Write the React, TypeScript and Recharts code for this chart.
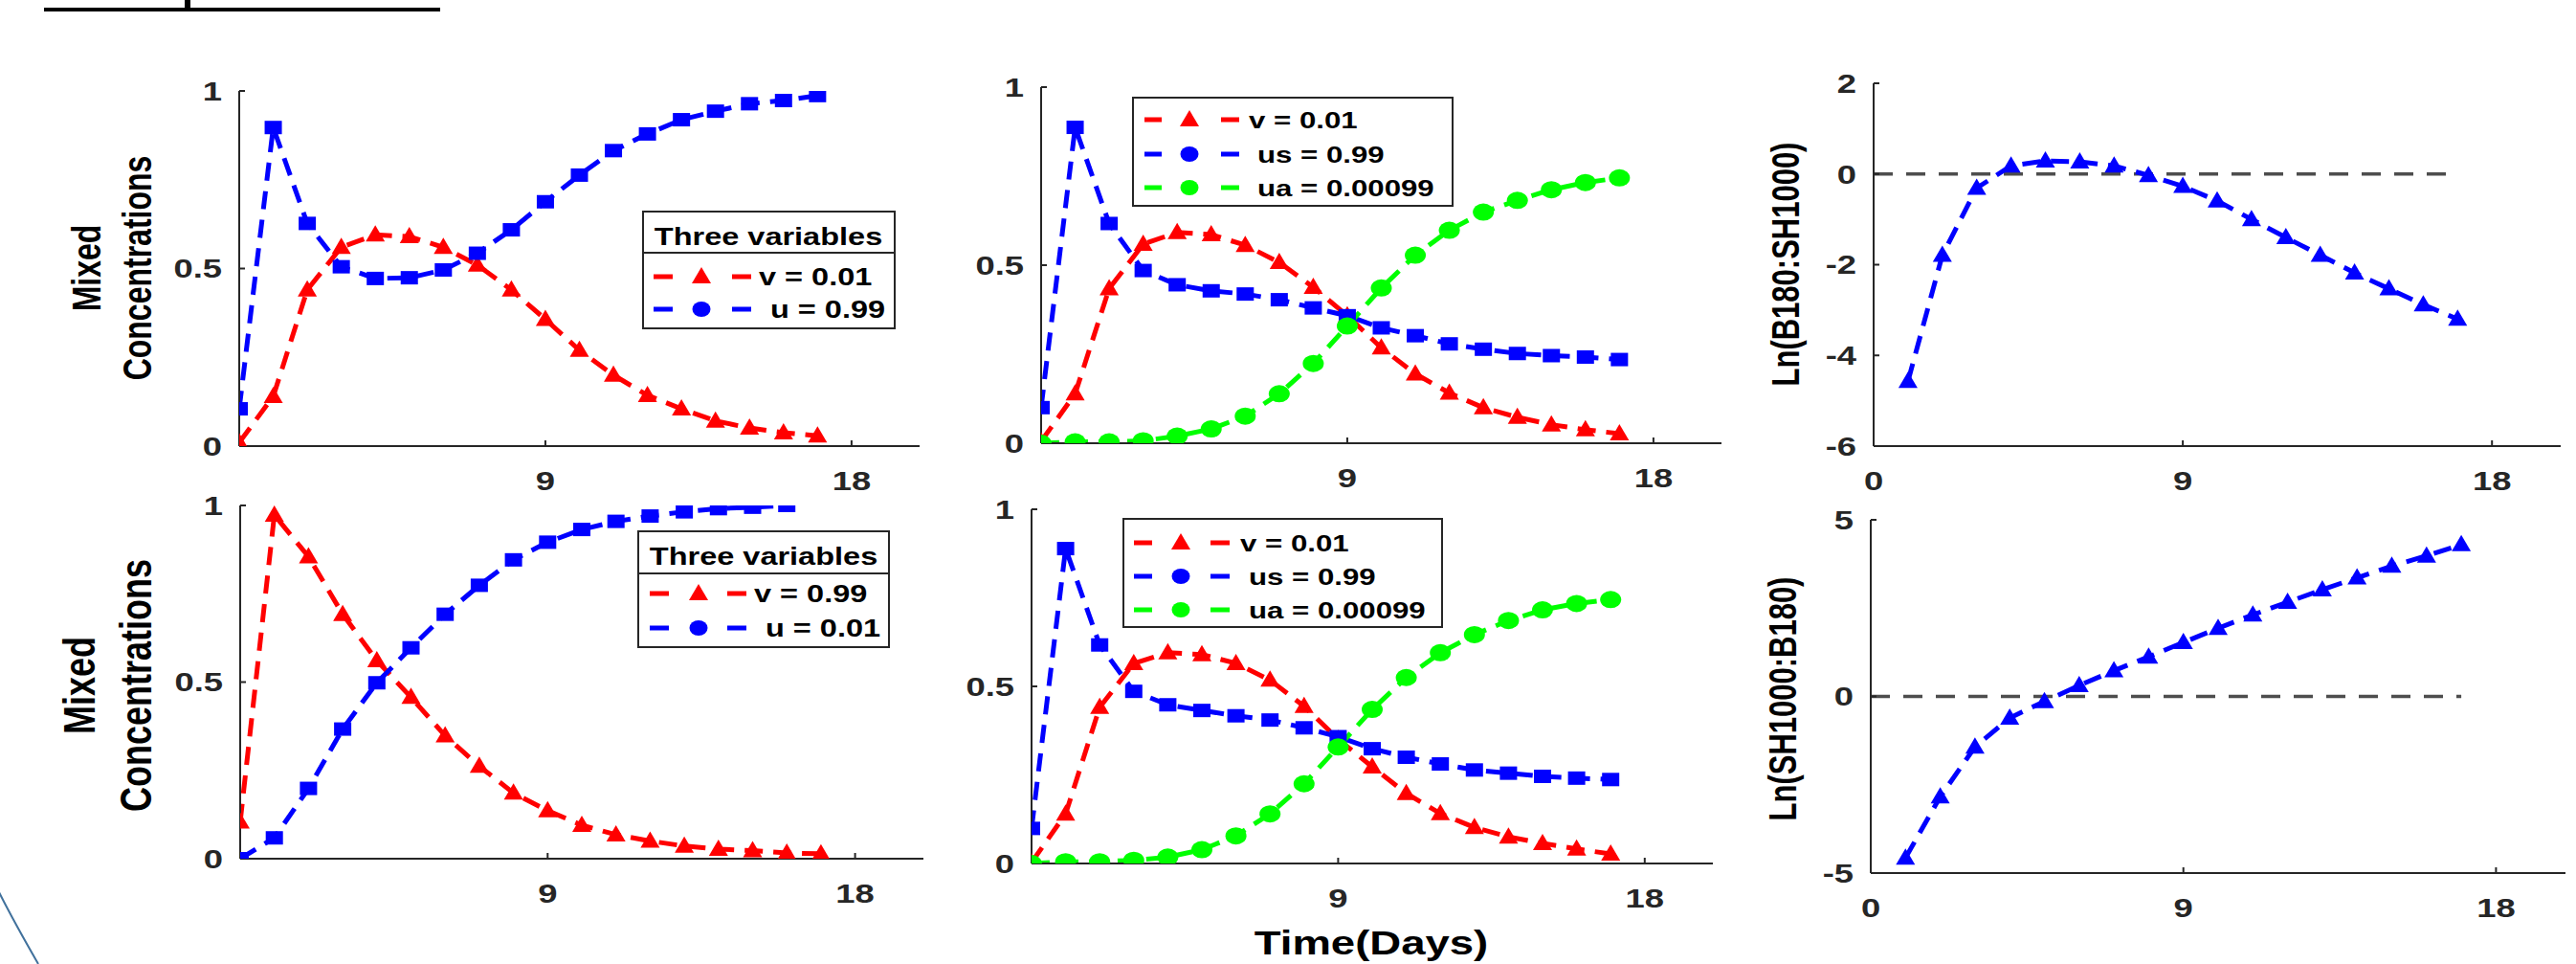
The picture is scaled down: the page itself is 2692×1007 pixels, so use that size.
import React from 'react';
import { LineChart, Line, XAxis, YAxis, ReferenceLine } from 'recharts';

// days on the x axis
const days = [0, 1, 2, 3, 4, 5, 6, 7, 8, 9, 10, 11, 12, 13, 14, 15, 16, 17];
const ratioDays = [1, 2, 3, 4, 5, 6, 7, 8, 9, 10, 11, 12, 13, 14, 15, 16, 17];

// top left: v = 0.01, u = 0.99
const p1V = [0.01, 0.14, 0.44, 0.56, 0.595, 0.59, 0.56, 0.51, 0.44, 0.357, 0.27, 0.2, 0.143, 0.105, 0.071, 0.051, 0.038, 0.029];
const p1U = [0.105, 0.897, 0.627, 0.505, 0.472, 0.474, 0.496, 0.543, 0.609, 0.688, 0.763, 0.832, 0.879, 0.919, 0.943, 0.964, 0.973, 0.987];

// top middle: v, us, ua
const p2V = [0.005, 0.139, 0.434, 0.559, 0.592, 0.586, 0.556, 0.508, 0.438, 0.358, 0.268, 0.195, 0.141, 0.1, 0.073, 0.052, 0.038, 0.027];
const p2Us = [0.1, 0.887, 0.617, 0.485, 0.445, 0.428, 0.419, 0.403, 0.38, 0.358, 0.324, 0.302, 0.279, 0.264, 0.252, 0.246, 0.242, 0.235];
const p2Ua = [0.0, 0.004, 0.004, 0.007, 0.02, 0.04, 0.076, 0.139, 0.224, 0.329, 0.436, 0.528, 0.598, 0.649, 0.682, 0.712, 0.732, 0.745];

// top right: Ln(B180:SH1000)
const p3Ratio = [-4.57, -1.79, -0.31, 0.18, 0.29, 0.27, 0.18, -0.03, -0.27, -0.59, -1.0, -1.4, -1.79, -2.18, -2.53, -2.88, -3.2];

// bottom left: v = 0.99, u = 0.01
const p4V = [0.104, 0.973, 0.855, 0.692, 0.561, 0.457, 0.348, 0.262, 0.186, 0.136, 0.095, 0.068, 0.05, 0.036, 0.027, 0.023, 0.016, 0.014];
const p4U = [0.0, 0.059, 0.199, 0.367, 0.498, 0.597, 0.692, 0.774, 0.846, 0.896, 0.932, 0.955, 0.97, 0.982, 0.991, 0.995, 1.0];

// bottom middle: v, us, ua
const p5V = [0.003, 0.14, 0.441, 0.565, 0.595, 0.59, 0.565, 0.518, 0.444, 0.351, 0.273, 0.198, 0.141, 0.102, 0.075, 0.057, 0.041, 0.027];
const p5Us = [0.099, 0.889, 0.617, 0.486, 0.448, 0.432, 0.417, 0.405, 0.383, 0.358, 0.324, 0.3, 0.281, 0.264, 0.255, 0.246, 0.241, 0.237];
const p5Ua = [0.0, 0.005, 0.005, 0.009, 0.018, 0.039, 0.078, 0.14, 0.225, 0.329, 0.435, 0.525, 0.595, 0.646, 0.686, 0.716, 0.734, 0.745];

// bottom right: Ln(SH1000:B180)
const p6Ratio = [-4.57, -2.84, -1.43, -0.61, -0.14, 0.31, 0.73, 1.12, 1.53, 1.93, 2.31, 2.67, 3.02, 3.36, 3.69, 3.98, 4.3];

const concTicks = [0, 0.5, 1];
const b180Ticks = [-6, -4, -2, 0, 2];
const sh1000Ticks = [-5, 0, 5];
const xTicksShort = [9, 18];
const xTicksFull = [0, 9, 18];

const FONT = '"Liberation Sans", Arial, Helvetica, sans-serif';
const AXIS = '#262626';
const RED = '#ff0000';
const BLUE = '#0000ff';
const GREEN = '#00ff00';
const STRETCH = 1.3;
const DASH = '19 11';

const toRows = (xs: number[], ys: number[]) => ys.map((y, i) => ({ x: xs[i], y }));

const Tri = ({ cx, cy, fill }: any) => (
  <polygon points={`${cx},${cy - 10} ${cx - 10},${cy + 7} ${cx + 10},${cy + 7}`} fill={fill} />
);
const Sq = ({ cx, cy, fill }: any) => <rect x={cx - 9} y={cy - 7} width={18} height={14} fill={fill} />;
const Circ = ({ cx, cy, fill }: any) => <ellipse cx={cx} cy={cy} rx={11} ry={9} fill={fill} />;
const LegCirc = ({ cx, cy, fill }: any) => <ellipse cx={cx} cy={cy} rx={9.5} ry={8} fill={fill} />;

const markerOf: Record<string, any> = { tri: Tri, sq: Sq, circ: Circ, legcirc: LegCirc };

const XTick = ({ x, y, payload }: any) => (
  <g transform={`translate(${x},${y})`}>
    <text transform={`scale(${STRETCH},1)`} textAnchor="middle" dy="0.71em" fill={AXIS}
      fontSize={28} fontWeight={700} fontFamily={FONT}>{payload.value}</text>
  </g>
);

const YTick = ({ x, y, payload }: any) => (
  <g transform={`translate(${x},${y})`}>
    <text transform={`scale(${STRETCH},1)`} textAnchor="end" dy="0.355em" fill={AXIS}
      fontSize={28} fontWeight={700} fontFamily={FONT}>{payload.value}</text>
  </g>
);

interface Series { xs: number[]; ys: number[]; color: string; marker: string }
interface PanelCfg {
  left: number; right: number; top: number; bottom: number;
  yDomain: number[]; yTicks: number[]; xTicks: number[];
  series: Series[]; zero?: boolean;
}

const panels: PanelCfg[] = [
  { left: 250, right: 961, top: 95, bottom: 466, yDomain: [0, 1], yTicks: concTicks, xTicks: xTicksShort,
    series: [{ xs: days, ys: p1V, color: RED, marker: 'tri' }, { xs: days, ys: p1U, color: BLUE, marker: 'sq' }] },
  { left: 1088, right: 1799, top: 91, bottom: 463, yDomain: [0, 1], yTicks: concTicks, xTicks: xTicksShort,
    series: [{ xs: days, ys: p2V, color: RED, marker: 'tri' }, { xs: days, ys: p2Us, color: BLUE, marker: 'sq' },
      { xs: days, ys: p2Ua, color: GREEN, marker: 'circ' }] },
  { left: 1958, right: 2676, top: 87, bottom: 466, yDomain: [-6, 2], yTicks: b180Ticks, xTicks: xTicksFull,
    series: [{ xs: ratioDays, ys: p3Ratio, color: BLUE, marker: 'tri' }], zero: true },
  { left: 251, right: 965, top: 528, bottom: 897, yDomain: [0, 1], yTicks: concTicks, xTicks: xTicksShort,
    series: [{ xs: days, ys: p4V, color: RED, marker: 'tri' }, { xs: days.slice(0, 17), ys: p4U, color: BLUE, marker: 'sq' }] },
  { left: 1078, right: 1790, top: 532, bottom: 902, yDomain: [0, 1], yTicks: concTicks, xTicks: xTicksShort,
    series: [{ xs: days, ys: p5V, color: RED, marker: 'tri' }, { xs: days, ys: p5Us, color: BLUE, marker: 'sq' },
      { xs: days, ys: p5Ua, color: GREEN, marker: 'circ' }] },
  { left: 1955, right: 2681, top: 543, bottom: 912, yDomain: [-5, 5], yTicks: sh1000Ticks, xTicks: xTicksFull,
    series: [{ xs: ratioDays, ys: p6Ratio, color: BLUE, marker: 'tri' }], zero: true },
];

const YW = 120;
const MT = 20;
const MR = 12;
const XH = 70;

const Panel = ({ p }: { p: PanelCfg }) => {
  const w = YW + (p.right - p.left) + MR;
  const h = MT + (p.bottom - p.top) + XH;
  return (
    <div style={{ position: 'absolute', left: p.left - YW, top: p.top - MT }}>
      <LineChart width={w} height={h} margin={{ top: MT, right: MR, bottom: 0, left: 0 }}>
        <XAxis type="number" dataKey="x" domain={[0, 20]} ticks={p.xTicks} interval={0} height={XH}
          axisLine={{ stroke: AXIS, strokeWidth: 2 }} tickLine={{ stroke: AXIS, strokeWidth: 2 }}
          tickSize={-6} tickMargin={32} tick={<XTick />} allowDataOverflow />
        <YAxis type="number" domain={p.yDomain} ticks={p.yTicks} interval={0} width={YW}
          axisLine={{ stroke: AXIS, strokeWidth: 2 }} tickLine={{ stroke: AXIS, strokeWidth: 2 }}
          tickSize={-6} tickMargin={24} tick={<YTick />} allowDataOverflow />
        {p.zero && (
          <ReferenceLine segment={[{ x: 0, y: 0 }, { x: 17, y: 0 }]} stroke="#4d4d4d"
            strokeWidth={3.5} strokeDasharray="20 14" />
        )}
        {p.series.map((s, i) => {
          const M = markerOf[s.marker];
          return (
            <Line key={i} data={toRows(s.xs, s.ys)} dataKey="y" type="linear" stroke={s.color}
              strokeWidth={5} strokeDasharray={DASH} isAnimationActive={false}
              dot={(d: any) => <M key={`${i}-${d.index}`} cx={d.cx} cy={d.cy} fill={s.color} />}
              activeDot={false} />
          );
        })}
      </LineChart>
    </div>
  );
};

// horizontal text, stretched like the source figure
const HText = ({ x, y, size, anchor = 'start', children }: any) => (
  <text transform={`translate(${x},${y}) scale(${STRETCH},1)`} textAnchor={anchor} fontSize={size}
    fontWeight={700} fontFamily={FONT} fill="#000">{children}</text>
);

// rotated y-axis label
const VText = ({ x, y, size, children }: any) => (
  <text transform={`translate(${x},${y}) rotate(-90) scale(1,${STRETCH})`} textAnchor="middle" fontSize={size}
    fontWeight={700} fontFamily={FONT} fill="#000">{children}</text>
);

interface LegRow { label: string; color: string; marker: string; y: number; tx: number }
interface LegCfg {
  x: number; y: number; w: number; h: number;
  title?: { text: string; cx: number; base: number; sep: number };
  d1: number[]; m: number; d2: number[]; size: number;
  rows: LegRow[];
}

const legends: LegCfg[] = [
  { x: 672, y: 221, w: 263, h: 122, title: { text: 'Three variables', cx: 803, base: 256, sep: 264 },
    d1: [683, 703], m: 733, d2: [765, 785], size: 25,
    rows: [{ label: 'v = 0.01', color: RED, marker: 'tri', y: 289, tx: 793 },
      { label: 'u = 0.99', color: BLUE, marker: 'legcirc', y: 323, tx: 805 }] },
  { x: 667, y: 555, w: 262, h: 121, title: { text: 'Three variables', cx: 798, base: 590, sep: 599 },
    d1: [679, 699], m: 730, d2: [760, 780], size: 25,
    rows: [{ label: 'v = 0.99', color: RED, marker: 'tri', y: 620, tx: 788 },
      { label: 'u = 0.01', color: BLUE, marker: 'legcirc', y: 656, tx: 800 }] },
  { x: 1184, y: 102, w: 334, h: 113, d1: [1196, 1214], m: 1243, d2: [1276, 1295], size: 24,
    rows: [{ label: 'v = 0.01', color: RED, marker: 'tri', y: 125, tx: 1305 },
      { label: 'us = 0.99', color: BLUE, marker: 'legcirc', y: 161, tx: 1314 },
      { label: 'ua = 0.00099', color: GREEN, marker: 'legcirc', y: 196, tx: 1314 }] },
  { x: 1174, y: 542, w: 333, h: 113, d1: [1185, 1204], m: 1234, d2: [1265, 1285], size: 24,
    rows: [{ label: 'v = 0.01', color: RED, marker: 'tri', y: 567, tx: 1296 },
      { label: 'us = 0.99', color: BLUE, marker: 'legcirc', y: 602, tx: 1305 },
      { label: 'ua = 0.00099', color: GREEN, marker: 'legcirc', y: 637, tx: 1305 }] },
];

const Legend = ({ l }: { l: LegCfg }) => (
  <g>
    <rect x={l.x} y={l.y} width={l.w} height={l.h} fill="#fff" stroke={AXIS} strokeWidth={2} />
    {l.title && (
      <>
        <HText x={l.title.cx} y={l.title.base} size={l.size} anchor="middle">{l.title.text}</HText>
        <line x1={l.x} x2={l.x + l.w} y1={l.title.sep} y2={l.title.sep} stroke={AXIS} strokeWidth={2} />
      </>
    )}
    {l.rows.map((r, i) => {
      const M = markerOf[r.marker];
      return (
        <g key={i}>
          <line x1={l.d1[0]} x2={l.d1[1]} y1={r.y} y2={r.y} stroke={r.color} strokeWidth={5} />
          <line x1={l.d2[0]} x2={l.d2[1]} y1={r.y} y2={r.y} stroke={r.color} strokeWidth={5} />
          <M cx={l.m} cy={r.y} fill={r.color} />
          <HText x={r.tx} y={r.y + 9} size={l.size}>{r.label}</HText>
        </g>
      );
    })}
  </g>
);

const App: React.FC = () => {
  return (
    <div style={{ position: 'absolute', left: 0, top: 0, width: 2692, height: 1007, background: '#fff', overflow: 'hidden' }}>
      {panels.map((p, i) => <Panel key={i} p={p} />)}
      <svg width={2692} height={1007} style={{ position: 'absolute', left: 0, top: 0, pointerEvents: 'none' }}>
        {/* clipped heading underline */}
        <rect x={46} y={8} width={414} height={4} fill="#000" />
        <rect x={193} y={0} width={6} height={10} fill="#000" />
        <path d="M-6,922 Q10,955 40,1007" stroke="#41719c" strokeWidth={2} fill="none" />

        <VText x={105} y={280} size={32}>Mixed</VText>
        <VText x={158} y={280} size={32}>Concentrations</VText>
        <VText x={99} y={716} size={36}>Mixed</VText>
        <VText x={158} y={716} size={36}>Concentrations</VText>
        <VText x={1880} y={276} size={31}>Ln(B180:SH1000)</VText>
        <VText x={1877} y={730} size={31}>Ln(SH1000:B180)</VText>

        <HText x={1433} y={997} size={35} anchor="middle">Time(Days)</HText>

        {legends.map((l, i) => <Legend key={i} l={l} />)}
      </svg>
    </div>
  );
};

export default App;
